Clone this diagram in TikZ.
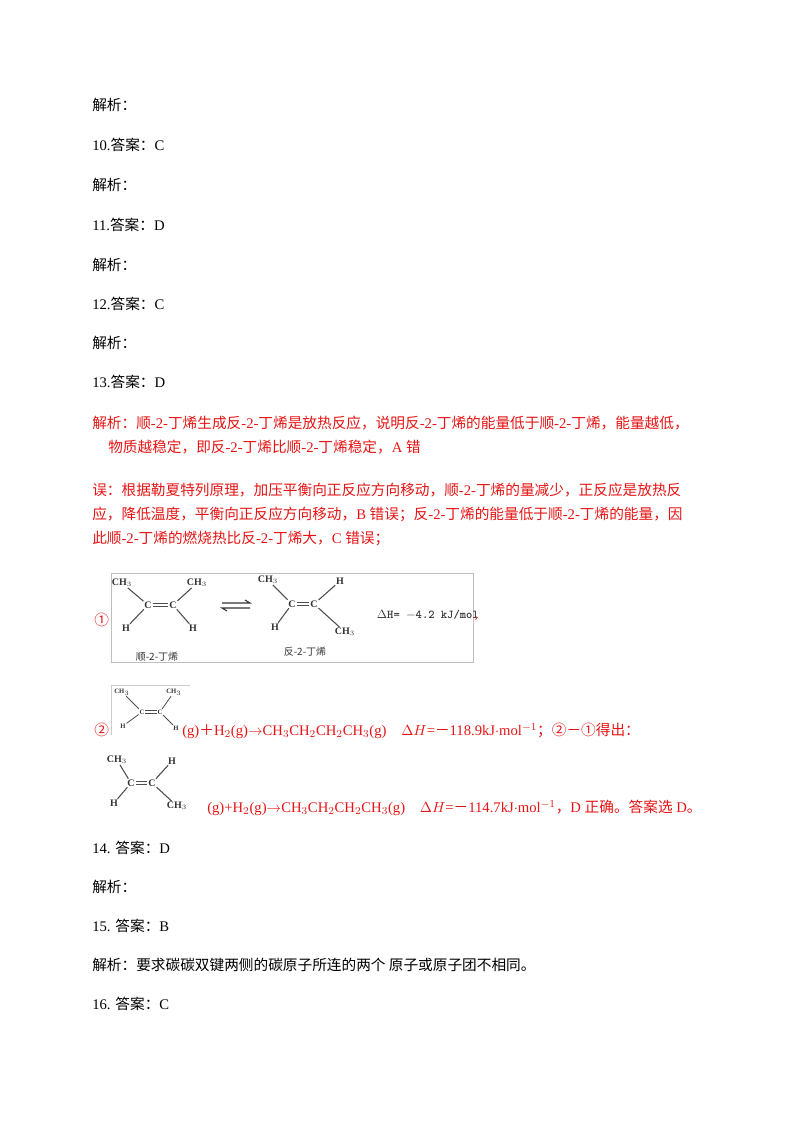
\documentclass[tikz,border=0pt]{standalone}
\usepackage{fontspec}
\setmainfont{Liberation Serif}
\newfontfamily\cjk{Noto Sans CJK SC}
\usetikzlibrary{positioning}
\definecolor{ansred}{RGB}{230,20,20}
\tikzstyle{line} = [anchor=west, inner sep=0pt, font=\fontsize{11}{12}\selectfont]
\tikzstyle{redline} = [line, text=ansred]
\tikzstyle{atom} = [inner sep=0.5pt, font=\fontsize{7.5}{8}\selectfont\bfseries, text=black!80]
\tikzstyle{small atom} = [atom, font=\fontsize{5}{5}\selectfont\bfseries]
\tikzstyle{bond} = [draw, black!70, line width=0.8pt]
\newcommand{\zh}[1]{{\cjk #1}}
\newcommand{\dbond}[2]{\path [bond, line width=0.6pt] ([yshift=1pt]#1.east) -- ([yshift=1pt]#2.west) ([yshift=-1pt]#1.east) -- ([yshift=-1pt]#2.west);}
\begin{document}
\begin{tikzpicture}[x=0.75pt,y=-0.75pt]
	\useasboundingbox (0,0) rectangle (800,1132);
	% answer lines
	\node [line] (L1) at (92,105) {\zh{解析：}};
	\node [line] (L2) at (92,145) {10.\zh{答案：}C};
	\node [line] (L3) at (92,185) {\zh{解析：}};
	\node [line] (L4) at (92,225) {11.\zh{答案：}D};
	\node [line] (L5) at (92,265) {\zh{解析：}};
	\node [line] (L6) at (92,304) {12.\zh{答案：}C};
	\node [line] (L7) at (92,343) {\zh{解析：}};
	\node [line] (L8) at (92,382) {13.\zh{答案：}D};
	% explanation 13
	\node [redline] (R1) at (92,423) {\zh{解析：顺}-2-\zh{丁烯生成反}-2-\zh{丁烯是放热反应，说明反}-2-\zh{丁烯的能量低于顺}-2-\zh{丁烯，能量越低，}};
	\node [redline] (R2) at (108,447) {\zh{物质越稳定，即反}-2-\zh{丁烯比顺}-2-\zh{丁烯稳定，}A \zh{错}};
	\node [redline] (R3) at (92,490) {\zh{误：根据勒夏特列原理，加压平衡向正反应方向移动，顺}-2-\zh{丁烯的量减少，正反应是放热反}};
	\node [redline] (R4) at (92,514) {\zh{应，降低温度，平衡向正反应方向移动，}B \zh{错误；反}-2-\zh{丁烯的能量低于顺}-2-\zh{丁烯的能量，因}};
	\node [redline] (R5) at (92,538) {\zh{此顺}-2-\zh{丁烯的燃烧热比反}-2-\zh{丁烯大，}C \zh{错误；}};
	% equation 1
	\node [redline] (E1) at (94,620) {\zh{①}};
	\draw [black!25] (111,573) rectangle (473,662);
	\node [atom] (a1) at (122,583) {CH$_3$};
	\node [atom] (a2) at (148,605) {C};
	\node [atom] (a3) at (173,605) {C};
	\node [atom] (a4) at (197,583) {CH$_3$};
	\node [atom] (a5) at (126,628) {H};
	\node [atom] (a6) at (193,628) {H};
	\path [bond] (a1) -- (a2) (a4) -- (a3) (a5) -- (a2) (a6) -- (a3);
	\dbond{a2}{a3}
	\node [atom, font=\fontsize{7.5}{8}\selectfont\cjk] (n1) at (157,657) {顺-2-丁烯};
	\coordinate (q1) at (222,603);
	\coordinate (q2) at (250,603);
	\coordinate (q3) at (222,608);
	\coordinate (q4) at (250,608);
	\draw [black!80, line width=0.8pt] (q1) -- (q2) -- ++(-5,-3);
	\draw [black!80, line width=0.8pt] (q4) -- (q3) -- ++(5,3);
	\node [atom] (b1) at (268,580) {CH$_3$};
	\node [atom] (b2) at (292,604) {C};
	\node [atom] (b3) at (314,604) {C};
	\node [atom] (b4) at (340,581) {H};
	\node [atom] (b5) at (275,627) {H};
	\node [atom] (b6) at (345,632) {CH$_3$};
	\path [bond] (b1) -- (b2) (b4) -- (b3) (b5) -- (b2) (b6) -- (b3);
	\dbond{b2}{b3}
	\node [atom, font=\fontsize{7.5}{8}\selectfont\cjk] (n2) at (305,652) {反-2-丁烯};
	\node [atom, anchor=west, font=\fontsize{9}{10}\selectfont\ttfamily\bfseries] (dh1) at (376,615) {$\Delta$H= $-$4.2 kJ/mol};
	\node [redline] (c1) at (474,619) {,};
	% equation 2
	\node [redline] (E2) at (94,730) {\zh{②}};
	\draw [black!20] (111,685) -- (111,735) (111,685) -- (190,685);
	\node [small atom] (s1) at (122,692) {CH$_3$};
	\node [small atom] (s2) at (142,712) {C};
	\node [small atom] (s3) at (160,712) {C};
	\node [small atom] (s4) at (174,692) {CH$_3$};
	\node [small atom] (s5) at (123,726) {H};
	\node [small atom] (s6) at (176,728) {H};
	\path [bond, line width=0.6pt] (s1) -- (s2) (s4) -- (s3) (s5) -- (s2) (s6) -- (s3);
	\dbond{s2}{s3}
	\node [redline] (T2) at (182,731) {(g)\zh{＋}H$_2$(g)$\rightarrow$CH$_3$CH$_2$CH$_2$CH$_3$(g)\quad $\Delta H$=\zh{－}118.9kJ$\cdot$mol$^{-1}$\zh{；②－①得出：}};
	% equation 3
	\node [atom] (t1) at (117,760) {CH$_3$};
	\node [atom] (t2) at (131,783) {C};
	\node [atom] (t3) at (152,783) {C};
	\node [atom] (t4) at (172,761) {H};
	\node [atom] (t5) at (114,803) {H};
	\node [atom] (t6) at (177,806) {CH$_3$};
	\path [bond] (t1) -- (t2) (t4) -- (t3) (t5) -- (t2) (t6) -- (t3);
	\dbond{t2}{t3}
	\node [redline] (T3) at (207,808) {(g)+H$_2$(g)$\rightarrow$CH$_3$CH$_2$CH$_2$CH$_3$(g)\quad $\Delta H$=\zh{－}114.7kJ$\cdot$mol$^{-1}$\zh{，}D \zh{正确。答案选} D\zh{。}};
	% remaining answers
	\node [line] (L9) at (92,848) {14. \zh{答案：}D};
	\node [line] (L10) at (92,887) {\zh{解析：}};
	\node [line] (L11) at (92,926) {15. \zh{答案：}B};
	\node [line] (L12) at (92,965) {\zh{解析：要求碳碳双键两侧的碳原子所连的两个 原子或原子团不相同。}};
	\node [line] (L13) at (92,1004) {16. \zh{答案：}C};
\end{tikzpicture}
\end{document}
